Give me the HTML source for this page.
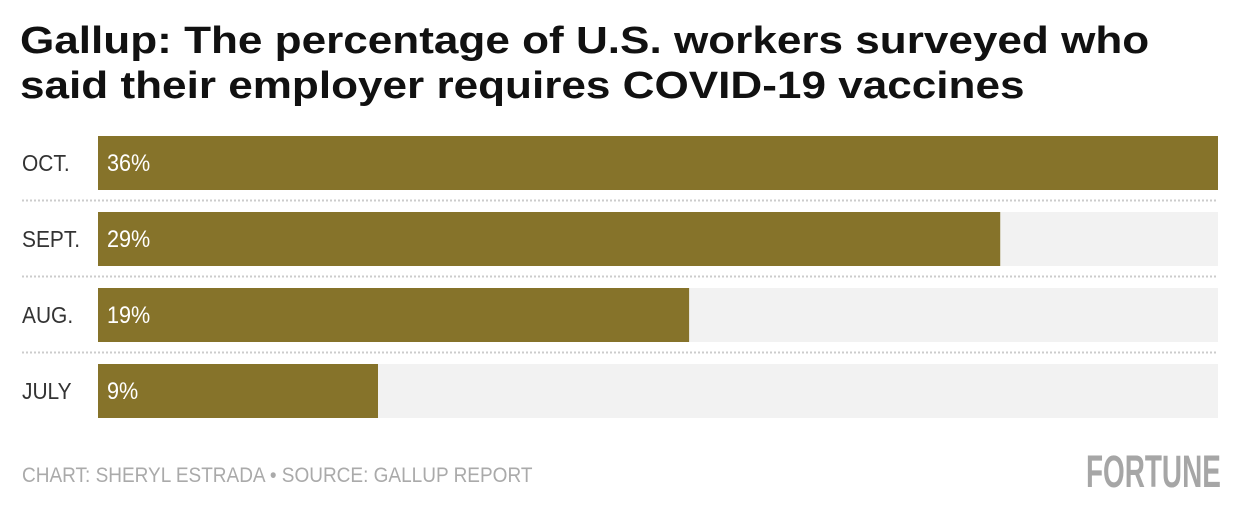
<!DOCTYPE html>
<html><head><meta charset="utf-8"><style>
body{margin:0;background:#fff;width:1240px;height:518px;overflow:hidden;font-family:"Liberation Sans",sans-serif}
.title{position:absolute;left:20px;top:19px;font-weight:bold;font-size:38px;line-height:45px;color:#111;white-space:nowrap;transform:scaleX(1.16);transform-origin:0 0}
.foot{position:absolute;left:22px;top:464px;font-size:21px;color:#aaa;white-space:nowrap;transform:scaleX(0.905);transform-origin:0 0}
.logo{position:absolute;left:1086px;top:446px;font-size:45px;font-weight:bold;color:#a6a6a6;white-space:nowrap;transform:scaleX(0.62);transform-origin:0 0}
</style></head><body>
<div class="title">Gallup: The percentage of U.S. workers surveyed who<br>said their employer requires COVID-19 vaccines</div>
<svg id="c" width="1240" height="518" style="position:absolute;left:0;top:0"></svg>
<div class="foot">CHART: SHERYL ESTRADA • SOURCE: GALLUP REPORT</div>
<div class="logo">FORTUNE</div>
<script>
const categories=["OCT.","SEPT.","AUG.","JULY"];
const values=[36,29,19,9];
const valueLabels=["36%","29%","19%","9%"];
const maxValue=36;
const svg=document.getElementById('c');
const NS='http://www.w3.org/2000/svg';
const x0=98,x1=1218,top0=136,step=76,bh=54;
const xs=v=>x0+(v/maxValue)*(x1-x0);
function mk(t,a){const e=document.createElementNS(NS,t);for(const k in a)e.setAttribute(k,a[k]);svg.appendChild(e);return e;}
categories.forEach((c,i)=>{
  const y=top0+i*step;
  const bg=mk('rect',{x:x0,y:y,width:x1-x0,height:bh,fill:'#f2f2f2'});
  
  
  const b=mk('rect',{x:x0,y:y,width:xs(values[i])-x0,height:bh,fill:'#86732a'});
  
  
  const ly=y+bh/2+8;
  const l=mk('text',{x:0,y:0,'font-size':23,fill:'#333',transform:'translate(22,'+ly+') scale(0.91,1)'});
  l.textContent=c;
  
  
  const v=mk('text',{x:0,y:0,'font-size':24,fill:'#fff',transform:'translate('+(x0+9)+','+ly+') scale(0.9,1)'});
  v.textContent=valueLabels[i];
  
  
  if(i<categories.length-1){
    const s=mk('line',{x1:22,x2:x1,y1:y+bh+10.5,y2:y+bh+10.5,stroke:'#ccc','stroke-width':2,'stroke-dasharray':'2 2'});
    
    
  }
});
</script>
</body></html>
